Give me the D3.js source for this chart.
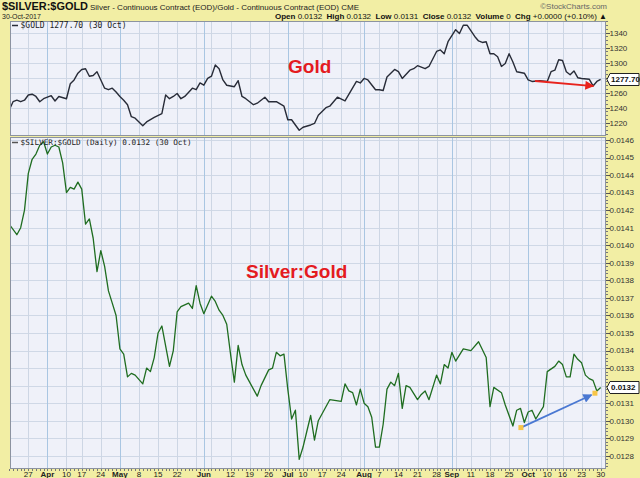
<!DOCTYPE html>
<html><head><meta charset="utf-8">
<script src="https://cdn.jsdelivr.net/npm/d3@7"></script>
<style>html,body{margin:0;padding:0;background:#f2eea4;}svg{display:block;font-family:"Liberation Sans",Arial,sans-serif;}</style>
</head><body><svg id="c" width="640" height="478"></svg>
<script>
// ---- calendar (trading sessions) ----
const firstSession = "2017-03-20", lastSession = "2017-10-30";
const holidays = ["2017-04-14","2017-05-29","2017-07-04","2017-09-04","2017-10-09"];

// ---- series: [session index, value] ----
const goldPoints = [[0,1237],[1,1248],[2,1250],[3,1248],[4,1250],[5,1257],[6,1258],[7,1255],[8,1248],[9,1252],[11,1256],[12,1249],[13,1255],[15,1252],[16,1272],[17,1277],[18,1286],[19,1291],[20,1292],[21,1282],[22,1283],[23,1288],[24,1277],[25,1266],[26,1264],[27,1266],[28,1261],[29,1255],[30,1250],[31,1244],[32,1228],[33,1226],[35,1216],[36,1221],[38,1227],[40,1232],[41,1257],[42,1252],[43,1255],[44,1259],[45,1252],[46,1255],[48,1266],[49,1264],[50,1273],[51,1270],[52,1279],[53,1282],[54,1297],[55,1292],[56,1277],[57,1270],[59,1268],[60,1276],[61,1255],[62,1252],[64,1244],[65,1246],[67,1254],[68,1248],[70,1248],[72,1242],[73,1224],[74,1224],[76,1210],[77,1214],[79,1217],[80,1219],[81,1230],[83,1240],[84,1242],[86,1254],[88,1249],[91,1275],[92,1273],[93,1279],[94,1277],[96,1264],[97,1264],[98,1263],[99,1281],[101,1291],[102,1288],[103,1279],[105,1290],[106,1292],[107,1296],[109,1292],[110,1295],[112,1315],[113,1317],[114,1312],[115,1328],[117,1344],[118,1339],[119,1350],[120,1350],[122,1335],[123,1329],[124,1327],[125,1328],[126,1312],[127,1312],[128,1308],[129,1295],[130,1299],[131,1312],[132,1301],[133,1288],[135,1286],[136,1277],[137,1275],[139,1276],[141,1275],[142,1288],[143,1290],[144,1304],[145,1303],[146,1288],[147,1284],[148,1289],[149,1280],[150,1279],[152,1278],[153,1269],[154,1275],[155,1277.7]];
const ratioPoints = [[0,0.01412],[2,0.01406],[3,0.01410],[4,0.01420],[5,0.01441],[6,0.01449],[7,0.01452],[8,0.01457],[9,0.01459],[10,0.01452],[11,0.01456],[12,0.01457],[13,0.01456],[14,0.01447],[15,0.01430],[16,0.01433],[17,0.01432],[18,0.01436],[19,0.01432],[20,0.01412],[21,0.01415],[22,0.01404],[23,0.01385],[24,0.01397],[25,0.01388],[26,0.01374],[27,0.01367],[28,0.01360],[29,0.01341],[30,0.01338],[31,0.01325],[32,0.01327],[33,0.01326],[35,0.01321],[36,0.01330],[37,0.01328],[38,0.01336],[39,0.01350],[40,0.01354],[42,0.01331],[43,0.01340],[44,0.01362],[45,0.01365],[47,0.01367],[48,0.01364],[49,0.01377],[50,0.01367],[51,0.01361],[53,0.01371],[54,0.01368],[55,0.01363],[56,0.01360],[57,0.01355],[58,0.01338],[59,0.01322],[60,0.01343],[61,0.01332],[62,0.01326],[63,0.01322],[65,0.01314],[66,0.01320],[68,0.01329],[69,0.01330],[70,0.01339],[71,0.01337],[72,0.01338],[73,0.01318],[74,0.01301],[75,0.01306],[76,0.01278],[77,0.01285],[78,0.01294],[79,0.01303],[80,0.01289],[81,0.01300],[83,0.01308],[84,0.01312],[87,0.01311],[88,0.01321],[89,0.01317],[90,0.01316],[91,0.01309],[92,0.01318],[93,0.01310],[94,0.01308],[95,0.01302],[96,0.01285],[97,0.01285],[98,0.01298],[99,0.01318],[100,0.01322],[101,0.01320],[102,0.01327],[103,0.01307],[104,0.01320],[105,0.01319],[107,0.01312],[108,0.01315],[109,0.01317],[110,0.01312],[112,0.01326],[113,0.01321],[114,0.01332],[115,0.01330],[116,0.01339],[117,0.01334],[119,0.01341],[121,0.01340],[123,0.01345],[125,0.01336],[126,0.01308],[127,0.01319],[129,0.01316],[130,0.01309],[132,0.01297],[133,0.01306],[134,0.01307],[135,0.01299],[136,0.01305],[137,0.01306],[138,0.01301],[140,0.01308],[141,0.01328],[143,0.01331],[144,0.01334],[145,0.01332],[146,0.01325],[147,0.01325],[148,0.01338],[149,0.01335],[150,0.01333],[151,0.01326],[152,0.01324],[153,0.01323],[154,0.01317],[155,0.01319]];

// ---- axis ticks ----
const tickDates = ["2017-03-27","2017-04-03","2017-04-10","2017-04-17","2017-04-24","2017-05-01","2017-05-08","2017-05-15","2017-05-22","2017-06-01","2017-06-12","2017-06-19","2017-06-26","2017-07-03","2017-07-10","2017-07-17","2017-07-24","2017-08-01","2017-08-07","2017-08-14","2017-08-21","2017-08-28","2017-09-01","2017-09-11","2017-09-18","2017-09-25","2017-10-02","2017-10-10","2017-10-16","2017-10-23","2017-10-30"];
const tickTexts = ["27","Apr","10","17","24","May","8","15","22","Jun","12","19","26","Jul","10","17","24","Aug","7","14","21","28","Sep","11","18","25","Oct","10","16","23","30"];
const goldTicks = [1220,1240,1260,1280,1300,1320,1340];
const ratioTicks = [0.0128,0.0129,0.0130,0.0131,0.0132,0.0133,0.0134,0.0135,0.0136,0.0137,0.0138,0.0139,0.0140,0.0141,0.0142,0.0143,0.0144,0.0145,0.0146];
const goldLast = 1277.70, ratioLast = 0.0132, ratioLastExact = 0.01319;

// ---- annotations (data units) ----
const goldArrow = [[137.8,1275.6],[153.1,1268.9]];
const ratioArrow = [[134.1,0.012961],[152.6,0.013147]];
const ratioDots = [[134.1,0.012961],[153.5,0.013157]];

// ---- build ----
const parse = d3.utcParse("%Y-%m-%d"), fmt = d3.utcFormat("%Y-%m-%d");
const sessions = d3.utcDay.range(parse(firstSession), d3.utcDay.offset(parse(lastSession),1))
  .filter(d => d.getUTCDay()%6!==0 && !holidays.includes(fmt(d)));
const sIdx = new Map(sessions.map((d,i)=>[fmt(d),i]));

const L=10, R=606, T1=21, B1=136, T2=137, B2=469;
const x = d3.scaleLinear().domain([0.2,156.4]).range([L,R]);
const yG = d3.scaleLinear().domain([1202.3,1355.6]).range([B1,T1]);
const yR = d3.scaleLinear().domain([0.012725,0.014617]).range([B2,T2]);

const svg = d3.select("#c");
const defs = svg.append("defs");
defs.append("clipPath").attr("id","cp1").append("rect").attr("x",L).attr("y",T1).attr("width",R-L).attr("height",B1-T1);
defs.append("clipPath").attr("id","cp2").append("rect").attr("x",L).attr("y",T2).attr("width",R-L).attr("height",B2-T2);
function marker(id,color){
  defs.append("marker").attr("id",id).attr("markerUnits","userSpaceOnUse").attr("viewBox","0 0 10 10")
   .attr("refX",9).attr("refY",5).attr("markerWidth",11).attr("markerHeight",9).attr("orient","auto")
   .append("path").attr("d","M0,0L10,5L0,10z").attr("fill",color);
}
marker("ar","#e8221c"); marker("ab","#4a78d2");

svg.append("rect").attr("width",640).attr("height",478).attr("fill","#f2eea4");

// grid sessions: week starts and month starts
const weekStarts = [], monthStarts = [];
sessions.forEach((d,i)=>{
  if(i===0) return;
  const p = sessions[i-1];
  if(d3.utcMonday.floor(d).getTime()!==d3.utcMonday.floor(p).getTime()) weekStarts.push(i);
  if(d.getUTCMonth()!==p.getUTCMonth()) monthStarts.push(i);
});

function panel(top,bot,clip,y,ticks,minorStep,fmtTick,lastVal){
  const g = svg.append("g");
  g.append("rect").attr("x",L).attr("y",top).attr("width",R-L).attr("height",bot-top).attr("fill","#eff1f9");
  const gg = g.append("g").attr("clip-path",`url(#${clip})`);
  gg.selectAll(".hg").data(ticks).join("line").attr("x1",L).attr("x2",R)
    .attr("y1",d=>Math.round(y(d))+0.5).attr("y2",d=>Math.round(y(d))+0.5).attr("stroke","#cfd8e6").attr("stroke-width",1);
  gg.selectAll(".wg").data(weekStarts).join("line").attr("y1",top).attr("y2",bot)
    .attr("x1",d=>Math.round(x(d))+0.5).attr("x2",d=>Math.round(x(d))+0.5).attr("stroke","#cdd6e4");
  gg.selectAll(".mg").data(monthStarts).join("line").attr("y1",top).attr("y2",bot)
    .attr("x1",d=>Math.round(x(d))+0.5).attr("x2",d=>Math.round(x(d))+0.5).attr("stroke","#a9c6e2");
  // right axis
  const [d0,d1] = y.domain();
  const minors = d3.range(Math.ceil(d0/minorStep), Math.floor(d1/minorStep)+1).map(k=>k*minorStep);
  g.selectAll(".mt").data(minors).join("line").attr("x1",R).attr("x2",R+2)
    .attr("y1",d=>Math.round(y(d))+0.5).attr("y2",d=>Math.round(y(d))+0.5).attr("stroke","#777");
  g.selectAll(".tk").data(ticks).join("line").attr("x1",R).attr("x2",R+4)
    .attr("y1",d=>Math.round(y(d))+0.5).attr("y2",d=>Math.round(y(d))+0.5).attr("stroke","#555");
  const yLast = y(lastVal);
  g.selectAll(".tl").data(ticks.filter(d=>Math.abs(y(d)-yLast)>8.5)).join("text").attr("x",R+3.5).attr("y",d=>y(d)).attr("dy","0.35em")
    .attr("font-size",8).attr("fill","#333").text(fmtTick);
  g.append("rect").attr("x",L+0.5).attr("y",top+0.5).attr("width",R-L-1).attr("height",bot-top-1)
    .attr("fill","none").attr("stroke","#8c93a0");
  return gg;
}
const p1 = panel(T1,B1,"cp1",yG,goldTicks,5,d=>d,goldLast);
const p2 = panel(T2,B2,"cp2",yR,ratioTicks,0.00002,d=>d3.format(".4f")(d),ratioLastExact);

// lines
p1.append("path").datum(goldPoints).attr("fill","none").attr("stroke","#282c38").attr("stroke-width",1.4)
  .attr("stroke-linejoin","round").attr("d",d3.line().x(d=>x(d[0])).y(d=>yG(d[1])));
p2.append("path").datum(ratioPoints).attr("fill","none").attr("stroke","#1f6d20").attr("stroke-width",1.3)
  .attr("stroke-linejoin","round").attr("d",d3.line().x(d=>x(d[0])).y(d=>yR(d[1])));

// x axis labels + minor ticks
svg.selectAll(".st").data(sessions.map((d,i)=>i)).join("line").attr("x1",d=>Math.round(x(d))+0.5).attr("x2",d=>Math.round(x(d))+0.5)
  .attr("y1",B2).attr("y2",B2+2).attr("stroke","#777");
svg.selectAll(".xl").data(tickDates).join("text").attr("x",d=>x(sIdx.get(d))).attr("y",477)
  .attr("text-anchor","middle").attr("font-size",8).attr("fill","#222")
  .attr("font-weight",(d,i)=>isNaN(+tickTexts[i])?"bold":"normal").text((d,i)=>tickTexts[i]);

// legends
svg.append("line").attr("x1",12).attr("x2",18).attr("y1",25.5).attr("y2",25.5).attr("stroke","#282c38").attr("stroke-width",1.5);
svg.append("text").attr("x",20.5).attr("y",28).attr("font-family","'DejaVu Sans Mono',monospace").attr("font-size",8).attr("fill","#222")
  .text(`$GOLD ${d3.format(".2f")(goldLast)} (30 Oct)`);
svg.append("line").attr("x1",12).attr("x2",18).attr("y1",142.5).attr("y2",142.5).attr("stroke","#555").attr("stroke-width",1.5);
svg.append("text").attr("x",20.5).attr("y",145).attr("font-family","'DejaVu Sans Mono',monospace").attr("font-size",7.7).attr("fill","#222")
  .text(`$SILVER:$GOLD (Daily) ${d3.format(".4f")(ratioLast)} (30 Oct)`);

// annotations
svg.append("text").attr("x",288).attr("y",73).attr("font-size",19).attr("font-weight","bold").attr("fill","#e41b1f").text("Gold");
svg.append("text").attr("x",246).attr("y",278).attr("font-size",19).attr("font-weight","bold").attr("fill","#e41b1f").text("Silver:Gold");
svg.append("line").attr("x1",x(goldArrow[0][0])).attr("y1",yG(goldArrow[0][1])).attr("x2",x(goldArrow[1][0])).attr("y2",yG(goldArrow[1][1]))
  .attr("stroke","#e8221c").attr("stroke-width",1.8).attr("marker-end","url(#ar)");
svg.append("line").attr("x1",x(ratioArrow[0][0])).attr("y1",yR(ratioArrow[0][1])).attr("x2",x(ratioArrow[1][0])).attr("y2",yR(ratioArrow[1][1]))
  .attr("stroke","#4a78d2").attr("stroke-width",1.8).attr("marker-end","url(#ab)");
svg.selectAll(".yd").data(ratioDots).join("rect").attr("x",d=>x(d[0])-2.5).attr("y",d=>yR(d[1])-2.5).attr("width",5).attr("height",5).attr("fill","#f7c548");

// value boxes
function valBox(yy,label){
  const g = svg.append("g");
  g.append("path").attr("d",`M${R+1},${yy}L${R+4},${yy-6}H639V${yy+6}H${R+4}Z`).attr("fill","#fff").attr("stroke","#222").attr("stroke-width",1);
  g.append("text").attr("x",R+5).attr("y",yy).attr("dy","0.35em").attr("font-size",8).attr("font-weight","bold").attr("fill","#111").text(label);
}
valBox(Math.round(yG(goldLast))+0.5, d3.format(".2f")(goldLast));
valBox(Math.round(yR(ratioLastExact))+0.5, d3.format(".4f")(ratioLast));

// header
svg.append("text").attr("x",2).attr("y",10).attr("font-size",10).attr("font-weight","bold").attr("fill","#111")
  .attr("textLength",86).attr("lengthAdjust","spacingAndGlyphs").text("$SILVER:$GOLD");
svg.append("text").attr("x",90).attr("y",9.5).attr("font-size",8).attr("fill","#222")
  .attr("textLength",269).attr("lengthAdjust","spacingAndGlyphs")
  .text("Silver - Continuous Contract (EOD)/Gold - Continuous Contract (EOD) CME");
svg.append("text").attr("x",607).attr("y",8.5).attr("text-anchor","end").attr("font-size",8).attr("fill","#666").text("©StockCharts.com");
svg.append("text").attr("x",2).attr("y",19).attr("font-size",7).attr("fill","#222").text("30-Oct-2017");
const info = svg.append("text").attr("x",607).attr("y",19).attr("text-anchor","end").attr("font-size",8).attr("fill","#111");
[["Open ","b"],["0.0132  ",""],["High ","b"],["0.0132  ",""],["Low ","b"],["0.0131  ",""],["Close ","b"],["0.0132  ",""],["Volume ","b"],["0  ",""],["Chg ","b"],["+0.0000 (+0.10%) ▲",""]]
 .forEach(([t,b])=>info.append("tspan").attr("font-weight",b?"bold":"normal").attr("xml:space","preserve").text(t));
</script></body></html>
